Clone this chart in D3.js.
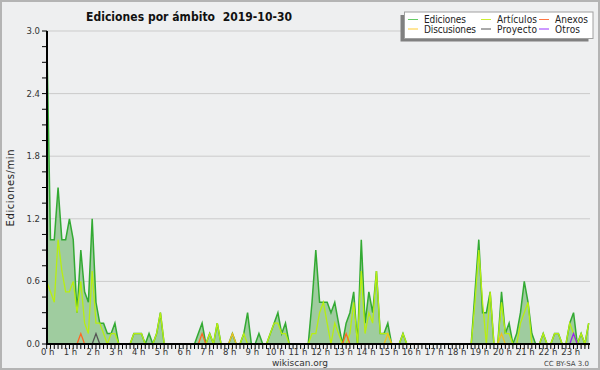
<!DOCTYPE html>
<html>
<head>
<meta charset="utf-8">
<script src="https://cdn.jsdelivr.net/npm/d3@7"></script>
<style>
  html, body { margin: 0; padding: 0; background: #eeeff0; }
  svg { display: block; }
</style>
</head>
<body>
<svg id="chart" width="600" height="370"></svg>
<script>
// 10 minute slots, values in edits per minute
const slotMinutes = d3.range(0, 1440, 10);
const hourLabels = ["0 h", "1 h", "2 h", "3 h", "4 h", "5 h", "6 h", "7 h", "8 h", "9 h", "10 h", "11 h",
    "12 h", "13 h", "14 h", "15 h", "16 h", "17 h", "18 h", "19 h", "20 h", "21 h", "22 h", "23 h"];
const yTicks = [0.0, 0.6, 1.2, 1.8, 2.4, 3.0];

const ediciones = [
    3.0, 1.0, 1.0, 1.5, 1.0, 1.0, 1.2, 1.0, 0.3, 0.9,
    0.5, 0.4, 1.2, 0.4, 0.2, 0.2, 0.1, 0.1, 0.2, 0,
    0, 0, 0, 0.1, 0.1, 0.1, 0, 0.1, 0, 0.1,
    0.3, 0, 0, 0, 0, 0, 0, 0, 0, 0,
    0.1, 0.2, 0, 0.1, 0, 0.2, 0, 0, 0, 0.1,
    0, 0, 0.1, 0.3, 0, 0, 0.1, 0, 0, 0.1,
    0.2, 0.3, 0.1, 0.2, 0, 0, 0, 0, 0, 0,
    0.4, 0.9, 0.4, 0.4, 0.4, 0.3, 0.4, 0.2, 0, 0.2,
    0.3, 0.5, 0, 1.0, 0.2, 0.5, 0.3, 0.7, 0.1, 0.1,
    0.2, 0, 0, 0, 0.1, 0, 0, 0, 0, 0,
    0, 0, 0, 0, 0, 0, 0, 0, 0, 0,
    0, 0, 0, 0.5, 1.0, 0.3, 0.3, 0.5, 0, 0,
    0.5, 0.1, 0.2, 0, 0.1, 0.3, 0.6, 0.4, 0.1, 0,
    0, 0.1, 0, 0, 0.1, 0.1, 0, 0, 0.2, 0.3,
    0, 0.1, 0, 0.2
];

const articulos = [
    0.6, 0.5, 0.4, 1.0, 0.7, 0.5, 0.5, 0.6, 0.3, 0.6,
    0.2, 0.1, 0.7, 0.2, 0.2, 0.1, 0, 0.1, 0.1, 0,
    0, 0, 0, 0.1, 0.1, 0.1, 0, 0, 0, 0.1,
    0.3, 0, 0, 0, 0, 0, 0, 0, 0, 0,
    0, 0, 0, 0.1, 0, 0.2, 0, 0, 0, 0,
    0, 0, 0.1, 0, 0, 0, 0, 0, 0, 0.1,
    0.2, 0.2, 0.1, 0.1, 0, 0, 0, 0, 0, 0,
    0.1, 0.1, 0.3, 0.4, 0.2, 0, 0.2, 0.1, 0, 0,
    0.1, 0.4, 0, 0.7, 0.1, 0.3, 0.2, 0.7, 0.1, 0.1,
    0.1, 0, 0, 0, 0.1, 0, 0, 0, 0, 0,
    0, 0, 0, 0, 0, 0, 0, 0, 0, 0,
    0, 0, 0, 0.4, 0.9, 0.4, 0, 0.5, 0, 0,
    0.4, 0.1, 0.1, 0, 0, 0.2, 0.3, 0.4, 0, 0,
    0, 0.1, 0, 0, 0.1, 0.1, 0, 0, 0.2, 0.1,
    0, 0.1, 0, 0.2
];

// sparse series: [slot index, value], all other slots are 0
const discusionesPeaks = [[49, 0.1], [90, 0.1], [120, 0.1]];
const anexosPeaks = [[9, 0.1], [41, 0.1], [79, 0.1]];
const proyectoPeaks = [[13, 0.1]];
const otrosPeaks = [[139, 0.1]];

const legendItems = [
    { name: "Ediciones", color: "#66cc66", col: 0, row: 0, w: 42 },
    { name: "Artículos", color: "#ccee33", col: 1, row: 0, w: 40 },
    { name: "Anexos", color: "#ff7744", col: 2, row: 0, w: 33 },
    { name: "Discusiones", color: "#ffcc33", col: 0, row: 1, w: 52 },
    { name: "Proyecto", color: "#555555", col: 1, row: 1, w: 40 },
    { name: "Otros", color: "#9933ff", col: 2, row: 1, w: 25 }
];

function fromPeaks(peaks) {
    const m = new Map(peaks);
    return slotMinutes.map((t, i) => m.get(i) || 0);
}

const svg = d3.select("#chart");
const W = 600, H = 370;

svg.append("rect")
    .attr("x", 1).attr("y", 1)
    .attr("width", W - 2).attr("height", H - 2)
    .attr("fill", "#eeeff0")
    .attr("stroke", "#b4b4b4")
    .attr("stroke-width", 2);

const x = d3.scaleLinear().domain([0, 1430]).range([46.7, 588.7]);
const y = d3.scaleLinear().domain([0, 3]).range([344, 31]);

// grid
svg.append("g").selectAll("line")
    .data(yTicks.filter(d => d > 0))
    .enter().append("line")
    .attr("x1", 47).attr("x2", 590)
    .attr("y1", d => y(d)).attr("y2", d => y(d))
    .attr("stroke", "#cbcbcb")
    .attr("stroke-width", 1);

const plot = svg.append("g");

const totalData = slotMinutes.map((t, i) => ({ t, v: ediciones[i] }));

plot.append("path")
    .datum(totalData)
    .attr("fill", "#9fcc9f")
    .attr("d", d3.area().x(d => x(d.t)).y0(y(0)).y1(d => y(d.v)));

const line = d3.line().x(d => x(d.t)).y(d => y(d.v));

plot.append("path")
    .datum(totalData)
    .attr("fill", "none")
    .attr("stroke", "#33aa33")
    .attr("stroke-width", 1.5)
    .attr("d", line);

const subSeries = [
    { values: articulos, color: "#b8ee11" },
    { values: fromPeaks(discusionesPeaks), color: "#f0c020" },
    { values: fromPeaks(anexosPeaks), color: "#ff6622" },
    { values: fromPeaks(proyectoPeaks), color: "#555555" },
    { values: fromPeaks(otrosPeaks), color: "#9922ee" }
];

subSeries.forEach(s => {
    plot.append("path")
        .datum(slotMinutes.map((t, i) => ({ t, v: s.values[i] })))
        .attr("fill", "none")
        .attr("stroke", s.color)
        .attr("stroke-width", 1.3)
        .attr("d", line);
});

// axes
const xAxis = svg.append("g").attr("transform", `translate(0,${y(0)})`);
xAxis.append("g").selectAll("line")
    .data(slotMinutes)
    .enter().append("line")
    .attr("x1", d => x(d)).attr("x2", d => x(d))
    .attr("y1", 0).attr("y2", 5)
    .attr("stroke", "#000")
    .attr("stroke-width", 1);
xAxis.append("line")
    .attr("x1", 46).attr("x2", 590)
    .attr("stroke", "#000").attr("stroke-width", 2);
xAxis.append("g").selectAll("text")
    .data(hourLabels)
    .enter().append("text")
    .attr("x", (d, i) => x(i * 60) + 1)
    .attr("y", 10.5)
    .attr("text-anchor", "middle")
    .attr("font-family", "DejaVu Sans")
    .attr("font-size", 8.5)
    .attr("fill", "#333")
    .text(d => d);

const yAxis = svg.append("g");
yAxis.append("g").selectAll("line")
    .data(d3.range(0, 21).map(k => k * 0.15))
    .enter().append("line")
    .attr("x1", 42).attr("x2", 47)
    .attr("y1", d => y(d)).attr("y2", d => y(d))
    .attr("stroke", "#000");
yAxis.append("line")
    .attr("x1", 47).attr("x2", 47)
    .attr("y1", 31).attr("y2", 345)
    .attr("stroke", "#000").attr("stroke-width", 2);
yAxis.append("g").selectAll("text")
    .data(yTicks)
    .enter().append("text")
    .attr("x", 40)
    .attr("y", d => y(d) + 3)
    .attr("text-anchor", "end")
    .attr("font-family", "DejaVu Sans")
    .attr("font-size", 8.5)
    .attr("fill", "#333")
    .text(d => d.toFixed(1));

svg.append("text")
    .attr("transform", "translate(14,188) rotate(-90)")
    .attr("text-anchor", "middle")
    .attr("font-family", "DejaVu Sans")
    .attr("font-size", 10)
    .attr("textLength", 77)
    .attr("fill", "#222")
    .text("Ediciones/min");

// title
svg.append("text")
    .attr("x", 86).attr("y", 21)
    .attr("font-family", "DejaVu Sans Condensed, DejaVu Sans")
    .attr("font-weight", "bold")
    .attr("font-size", 12)
    .attr("textLength", 206)
    .style("white-space", "pre")
    .attr("fill", "#111")
    .text("Ediciones por ámbito  2019-10-30");

// legend
const lg = svg.append("g");
lg.append("rect")
    .attr("x", 400.5).attr("y", 15)
    .attr("width", 188).attr("height", 26.5)
    .attr("fill", "#808080");
lg.append("rect")
    .attr("x", 404.5).attr("y", 12)
    .attr("width", 188.5).attr("height", 26.5)
    .attr("fill", "#fff")
    .attr("stroke", "#a0a0a0");
const colX = [408, 481, 539];
const rowY = [19.5, 29];
legendItems.forEach(d => {
    const lx = colX[d.col], ly = rowY[d.row];
    lg.append("line")
        .attr("x1", lx).attr("x2", lx + 10)
        .attr("y1", ly).attr("y2", ly)
        .attr("stroke", d.color).attr("stroke-width", 1);
    lg.append("text")
        .attr("x", lx + 16).attr("y", ly + 3.5)
        .attr("font-family", "DejaVu Sans Condensed, DejaVu Sans")
        .attr("font-size", 10)
        .attr("textLength", d.w)
        .attr("fill", "#222")
        .text(d.name);
});

// footer
svg.append("text")
    .attr("x", 300).attr("y", 365.5)
    .attr("text-anchor", "middle")
    .attr("font-family", "DejaVu Sans")
    .attr("font-size", 9)
    .attr("fill", "#333")
    .text("wikiscan.org");
svg.append("text")
    .attr("x", 589).attr("y", 365.5)
    .attr("text-anchor", "end")
    .attr("font-family", "DejaVu Sans")
    .attr("font-size", 7)
    .attr("fill", "#444")
    .text("CC BY-SA 3.0");
</script>
</body>
</html>
